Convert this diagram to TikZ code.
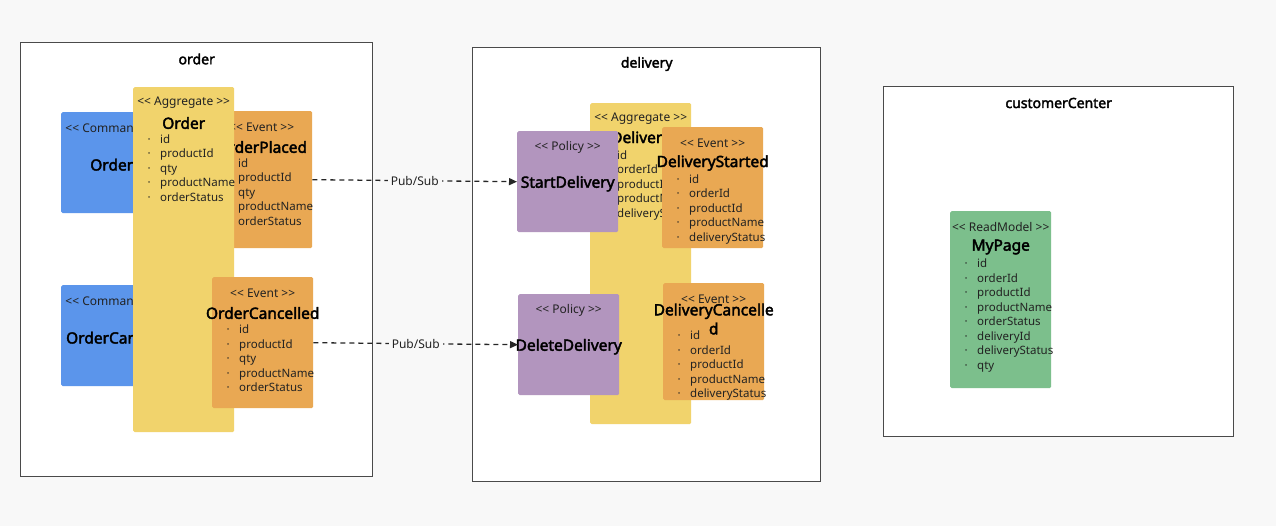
\documentclass[tikz,border=0pt]{standalone}
\usepackage{fontspec}
\setmainfont{Noto Sans}[AutoFakeBold=2.5]
\usepackage{xcolor}
\usetikzlibrary{calc,arrows.meta}
\definecolor{pagebg}{HTML}{F8F8F8}
\definecolor{framegray}{HTML}{4A4A4A}
\definecolor{cmdblue}{HTML}{5B95EB}
\definecolor{aggyellow}{HTML}{F1D36C}
\definecolor{evorange}{HTML}{E9A853}
\definecolor{polpurple}{HTML}{B295BE}
\definecolor{rmgreen}{HTML}{7CBF8C}
\definecolor{txtdark}{HTML}{222222}
\newcommand{\itm}{\makebox[6pt][c]{·}\hspace{8pt}}
\tikzset{
  ctxframe/.style={draw=framegray,line width=1.4pt,fill=white,anchor=north west,minimum width=#1,inner sep=0pt},
  ctxtitle/.style={font=\fontsize{14pt}{16pt}\selectfont\bfseries,text=black},
  sticky/.style={anchor=north west,minimum width=101pt,inner sep=0pt,rounded corners=1.5pt,fill=#1},
  stereo/.style={font=\fontsize{12pt}{13pt}\selectfont,text=txtdark,inner sep=0pt},
  elname/.style={font=\fontsize{15.5pt}{19pt}\selectfont\bfseries,text=black,inner sep=0pt,align=center},
  % base of a list node is the base of its last line
  attrs/.style={font=\fontsize{11.5pt}{14.5pt}\selectfont,text=txtdark,inner sep=0pt,align=left,anchor=base west},
  pubsub/.style={draw=black!85,line width=1.3pt,dash pattern=on 5pt off 4pt,-{Triangle[length=8pt,width=7pt]}},
  pubsublabel/.style={font=\fontsize{12pt}{14pt}\selectfont,text=txtdark,fill=pagebg,inner sep=3pt}
}
\begin{document}
\begin{tikzpicture}[x=1pt,y=-1pt]
  \fill[pagebg] (0,0) rectangle (1276,526);
  \useasboundingbox (0,0) rectangle (1276,526);
  % bounded contexts
  \node[ctxframe=352pt,minimum height=434pt] (ctxOrder) at (20,42) {};
  \node[ctxtitle] (ctxOrderT) at ($(ctxOrder.north)+(0,17)$) {order};
  \node[ctxframe=348pt,minimum height=434pt] (ctxDelivery) at (472,47) {};
  \node[ctxtitle] (ctxDeliveryT) at ($(ctxDelivery.north)+(0,17)$) {delivery};
  \node[ctxframe=350pt,minimum height=350pt] (ctxCustomer) at (883,86) {};
  \node[ctxtitle] (ctxCustomerT) at ($(ctxCustomer.north)+(0,17)$) {customerCenter};
  % order: commands
  \node[sticky=cmdblue,minimum height=101pt] (cmdOrder) at (61,112) {};
  \node[stereo] (cmdOrderS) at ($(cmdOrder.north)+(0,16)$) {<{}< Command >{}>};
  \node[elname] (cmdOrderN) at ($(cmdOrder.center)+(0,2)$) {Order};
  \node[sticky=cmdblue,minimum height=101pt] (cmdCancel) at (61,285) {};
  \node[stereo] (cmdCancelS) at ($(cmdCancel.north)+(0,16)$) {<{}< Command >{}>};
  \node[elname] (cmdCancelN) at ($(cmdCancel.center)+(0,2)$) {OrderCancel};
  % order: event under the aggregate
  \node[sticky=evorange,minimum height=137pt] (evPlaced) at (211,111) {};
  \node[stereo] (evPlacedS) at ($(evPlaced.north)+(0,16)$) {<{}< Event >{}>};
  \node[elname] (evPlacedN) at ($(evPlaced.north)+(0,36)$) {OrderPlaced};
  \node[attrs] (evPlacedA) at ($(evPlaced.north west)+(13,114.5)$) {\itm id\\\itm productId\\\itm qty\\\itm productName\\\itm orderStatus};
  % order: aggregate
  \node[sticky=aggyellow,minimum height=345pt] (aggOrder) at (133,87) {};
  \node[stereo] (aggOrderS) at ($(aggOrder.north)+(0,16)$) {<{}< Aggregate >{}>};
  \node[elname] (aggOrderN) at ($(aggOrder.north)+(0,36)$) {Order};
  \node[attrs] (aggOrderA) at ($(aggOrder.north west)+(13,114.5)$) {\itm id\\\itm productId\\\itm qty\\\itm productName\\\itm orderStatus};
  \node[sticky=evorange,minimum height=131pt] (evCancelled) at (212,277) {};
  \node[stereo] (evCancelledS) at ($(evCancelled.north)+(0,16)$) {<{}< Event >{}>};
  \node[elname] (evCancelledN) at ($(evCancelled.north)+(0,36)$) {OrderCancelled};
  \node[attrs] (evCancelledA) at ($(evCancelled.north west)+(13,114.5)$) {\itm id\\\itm productId\\\itm qty\\\itm productName\\\itm orderStatus};
  % delivery
  \node[sticky=aggyellow,minimum height=321pt] (aggDelivery) at (590,103) {};
  \node[stereo] (aggDeliveryS) at ($(aggDelivery.north)+(0,16)$) {<{}< Aggregate >{}>};
  \node[elname] (aggDeliveryN) at ($(aggDelivery.north)+(0,36)$) {Delivery};
  \node[attrs] (aggDeliveryA) at ($(aggDelivery.north west)+(13,114.5)$) {\itm id\\\itm orderId\\\itm productId\\\itm productName\\\itm deliveryStatus};
  \node[sticky=polpurple,minimum height=101pt] (polStart) at (517,131) {};
  \node[stereo] (polStartS) at ($(polStart.north)+(0,16)$) {<{}< Policy >{}>};
  \node[elname] (polStartN) at ($(polStart.center)+(0,2)$) {StartDelivery};
  \node[sticky=evorange,minimum height=121pt] (evStarted) at (662,127) {};
  \node[stereo] (evStartedS) at ($(evStarted.north)+(0,16)$) {<{}< Event >{}>};
  \node[elname] (evStartedN) at ($(evStarted.north)+(0,36)$) {DeliveryStarted};
  \node[attrs] (evStartedA) at ($(evStarted.north west)+(13,114.5)$) {\itm id\\\itm orderId\\\itm productId\\\itm productName\\\itm deliveryStatus};
  \node[sticky=polpurple,minimum height=101pt] (polDelete) at (518,294) {};
  \node[stereo] (polDeleteS) at ($(polDelete.north)+(0,16)$) {<{}< Policy >{}>};
  \node[elname] (polDeleteN) at ($(polDelete.center)+(0,2)$) {DeleteDelivery};
  \node[sticky=evorange,minimum height=117pt] (evDelCancelled) at (663,283) {};
  \node[stereo] (evDelCancelledS) at ($(evDelCancelled.north)+(0,16)$) {<{}< Event >{}>};
  \node[elname] (evDelCancelledN) at ($(evDelCancelled.north)+(0,36)$) {DeliveryCancelle\\d};
  \node[attrs] (evDelCancelledA) at ($(evDelCancelled.north west)+(13,114.5)$) {\itm id\\\itm orderId\\\itm productId\\\itm productName\\\itm deliveryStatus};
  % customerCenter
  \node[sticky=rmgreen,minimum height=177pt] (rmMyPage) at (950,211) {};
  \node[stereo] (rmMyPageS) at ($(rmMyPage.north)+(0,16)$) {<{}< ReadModel >{}>};
  \node[elname] (rmMyPageN) at ($(rmMyPage.north)+(0,36)$) {MyPage};
  \node[attrs] (rmMyPageA) at ($(rmMyPage.north west)+(13,158)$) {\itm id\\\itm orderId\\\itm productId\\\itm productName\\\itm orderStatus\\\itm deliveryId\\\itm deliveryStatus\\\itm qty};
  % pub/sub
  \draw[pubsub] (evPlaced.east) -- node[pubsublabel] (lblStart) {Pub/Sub} (polStart.west);
  \draw[pubsub] (evCancelled.east) -- node[pubsublabel] (lblDelete) {Pub/Sub} (polDelete.west);
\end{tikzpicture}
\end{document}
